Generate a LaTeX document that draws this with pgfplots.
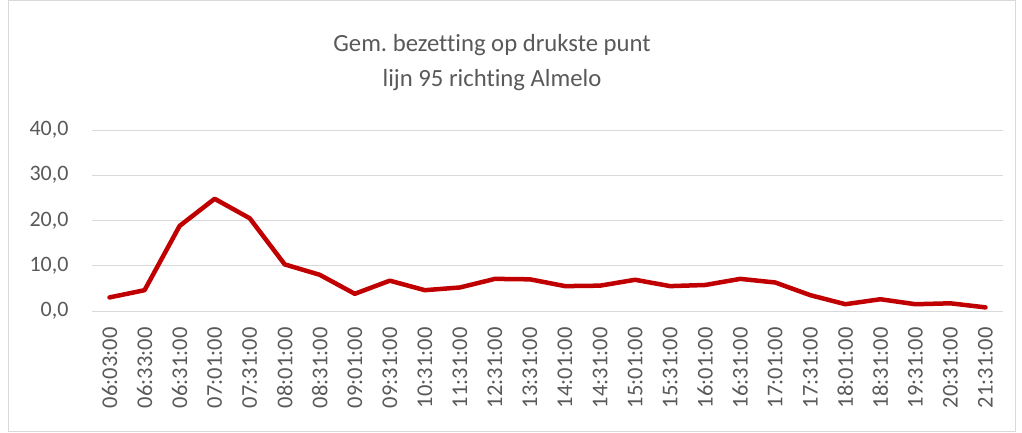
\documentclass[border=0pt]{standalone}
\usepackage{pgfplots}
\pgfplotsset{compat=1.18}
\usepackage{fontspec}
\setmainfont[Ligatures=NoCommon]{Carlito}
\definecolor{txtgray}{HTML}{595959}
\definecolor{gridgray}{HTML}{D9D9D9}
\definecolor{linered}{HTML}{C00000}
\frenchspacing
\begin{document}
\begin{tikzpicture}
\useasboundingbox (0,0) rectangle (1022pt,432pt);
\draw[gridgray, line width=1pt] (8.5pt,1pt) rectangle (1015pt,431pt);
\node[text=txtgray, font=\fontsize{24.7}{35}\selectfont, align=center] at (492pt,369pt) {Gem. bezetting op drukste punt\\lijn 95 richting Almelo};
\begin{axis}[
  at={(92pt,121pt)}, anchor=south west,
  scale only axis, width=911pt, height=181pt,
  xmin=-0.5, xmax=25.5, ymin=0, ymax=40,
  ytick={0,10,20,30,40},
  xtick={0,...,25},
  xticklabels={06:03:00,06:33:00,06:31:00,07:01:00,07:31:00,08:01:00,08:31:00,09:01:00,09:31:00,10:31:00,11:31:00,12:31:00,13:31:00,14:01:00,14:31:00,15:01:00,15:31:00,16:01:00,16:31:00,17:01:00,17:31:00,18:01:00,18:31:00,19:31:00,20:31:00,21:31:00},
  x tick label style={rotate=90, anchor=east, font=\fontsize{22.5}{26}\selectfont, text=txtgray, xshift=-13pt},
  y tick label style={font=\fontsize{22}{26}\selectfont, text=txtgray},
  yticklabel shift=20pt,
  yticklabel style={/pgf/number format/.cd, fixed, fixed zerofill, precision=1, use comma, assume math mode=true},
  /pgf/number format/assume math mode=true,
  ymajorgrids, grid style={gridgray, line width=1pt},
  axis lines*=left,
  y axis line style={draw=none},
  x axis line style={gridgray, line width=1pt, -},
  major tick length=0pt,
  clip=false,
]
\addplot[linered, line width=4.5pt, line join=round, line cap=round] coordinates {
(0,3.0) (1,4.6) (2,18.8) (3,24.8) (4,20.5) (5,10.3) (6,8.0) (7,3.8) (8,6.7) (9,4.6) (10,5.2) (11,7.1) (12,7.0) (13,5.5) (14,5.6) (15,6.9) (16,5.5) (17,5.75) (18,7.1) (19,6.3) (20,3.5) (21,1.5) (22,2.6) (23,1.5) (24,1.7) (25,0.8)
};
\end{axis}
\end{tikzpicture}
\end{document}
